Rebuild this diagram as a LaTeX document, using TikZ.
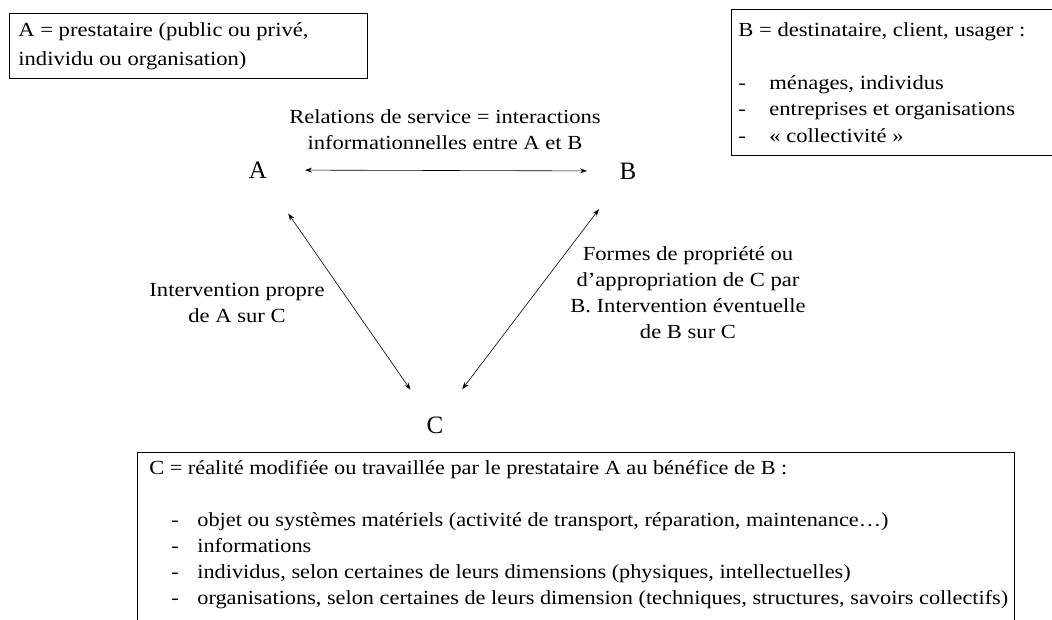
\documentclass[tikz,border=0pt]{standalone}
\usepackage{fontspec}
\setmainfont{Liberation Serif}[FakeStretch=1.13]
\newfontfamily\condfont[FakeStretch=1.115]{Liberation Serif}
\newfontfamily\letterfont{Liberation Serif}
\usetikzlibrary{arrows.meta}
\newcommand\itemline[1]{\mbox{\hspace*{22pt}\makebox[26pt][l]{-}#1}}
\begin{document}
\begin{tikzpicture}[x=1pt,y=-1pt,
  txt/.style={font=\fontsize{20}{26}\selectfont, inner sep=0pt, align=center},
  letter/.style={font=\letterfont\fontsize{25}{26}\selectfont, inner sep=0pt},
  box/.style={draw, line width=0.8pt, anchor=north west, align=flush left},
  arr/.style={line width=0.6pt, {Stealth[length=7pt,width=5pt]}-{Stealth[length=7pt,width=5pt]}}
]
\useasboundingbox (0,0) rectangle (1052,619);
\clip (0,0) rectangle (1052,619);
\fill[white] (0,0) rectangle (1052,619);

% definition boxes
\node[box, text width=340pt, minimum height=65pt, inner xsep=9pt, inner ysep=0pt,
      font=\fontsize{20}{29}\selectfont] (boxA) at (9,13)
  {A = prestataire (public ou privé,\\ individu ou organisation)};

\node[box, text width=326pt, minimum height=146pt, inner xsep=7pt, inner ysep=0pt,
      font=\fontsize{20}{26.5}\selectfont] (boxB) at (731,9)
  {B = destinataire, client, usager :\\[26.5pt]
   \makebox[31pt][l]{-}ménages, individus\\
   \makebox[31pt][l]{-}entreprises et organisations\\
   \makebox[31pt][l]{-}« collectivité »};

\node[box, text width=853pt, inner xsep=12pt, inner ysep=8pt,
      font=\condfont\fontsize{20}{26}\selectfont] (boxC) at (137,452)
  {\mbox{C = réalité modifiée ou travaillée par le prestataire A au bénéfice de B :}\\[26pt]
   \itemline{objet ou systèmes matériels (activité de transport, réparation, maintenance…)}\\
   \itemline{informations}\\
   \itemline{individus, selon certaines de leurs dimensions (physiques, intellectuelles)}\\
   \itemline{organisations, selon certaines de leurs dimension (techniques, structures, savoirs collectifs)}\\
   \mbox{}};

% the three poles
\node[letter] (A) at (258,170) {A};
\node[letter] (B) at (628,171) {B};
\node[letter] (C) at (435,425) {C};

% connectors
\draw[arr, shorten <=47pt, shorten >=41pt] (A.center) -- (B.center);
\draw[arr, shorten <=53pt, shorten >=43pt] (A.center) -- (C.center);
\draw[arr, shorten <=48pt, shorten >=45pt] (B.center) -- (C.center);

% labels
\node[txt] (lAB) at (445,130) {Relations de service = interactions\\informationnelles entre A et B};
\node[txt] (lAC) at (237,303) {Intervention propre\\de A sur C};
\node[txt] (lBC) at (688,293) {Formes de propriété ou\\d’appropriation de C par\\B. Intervention éventuelle\\de B sur C};
\end{tikzpicture}
\end{document}
